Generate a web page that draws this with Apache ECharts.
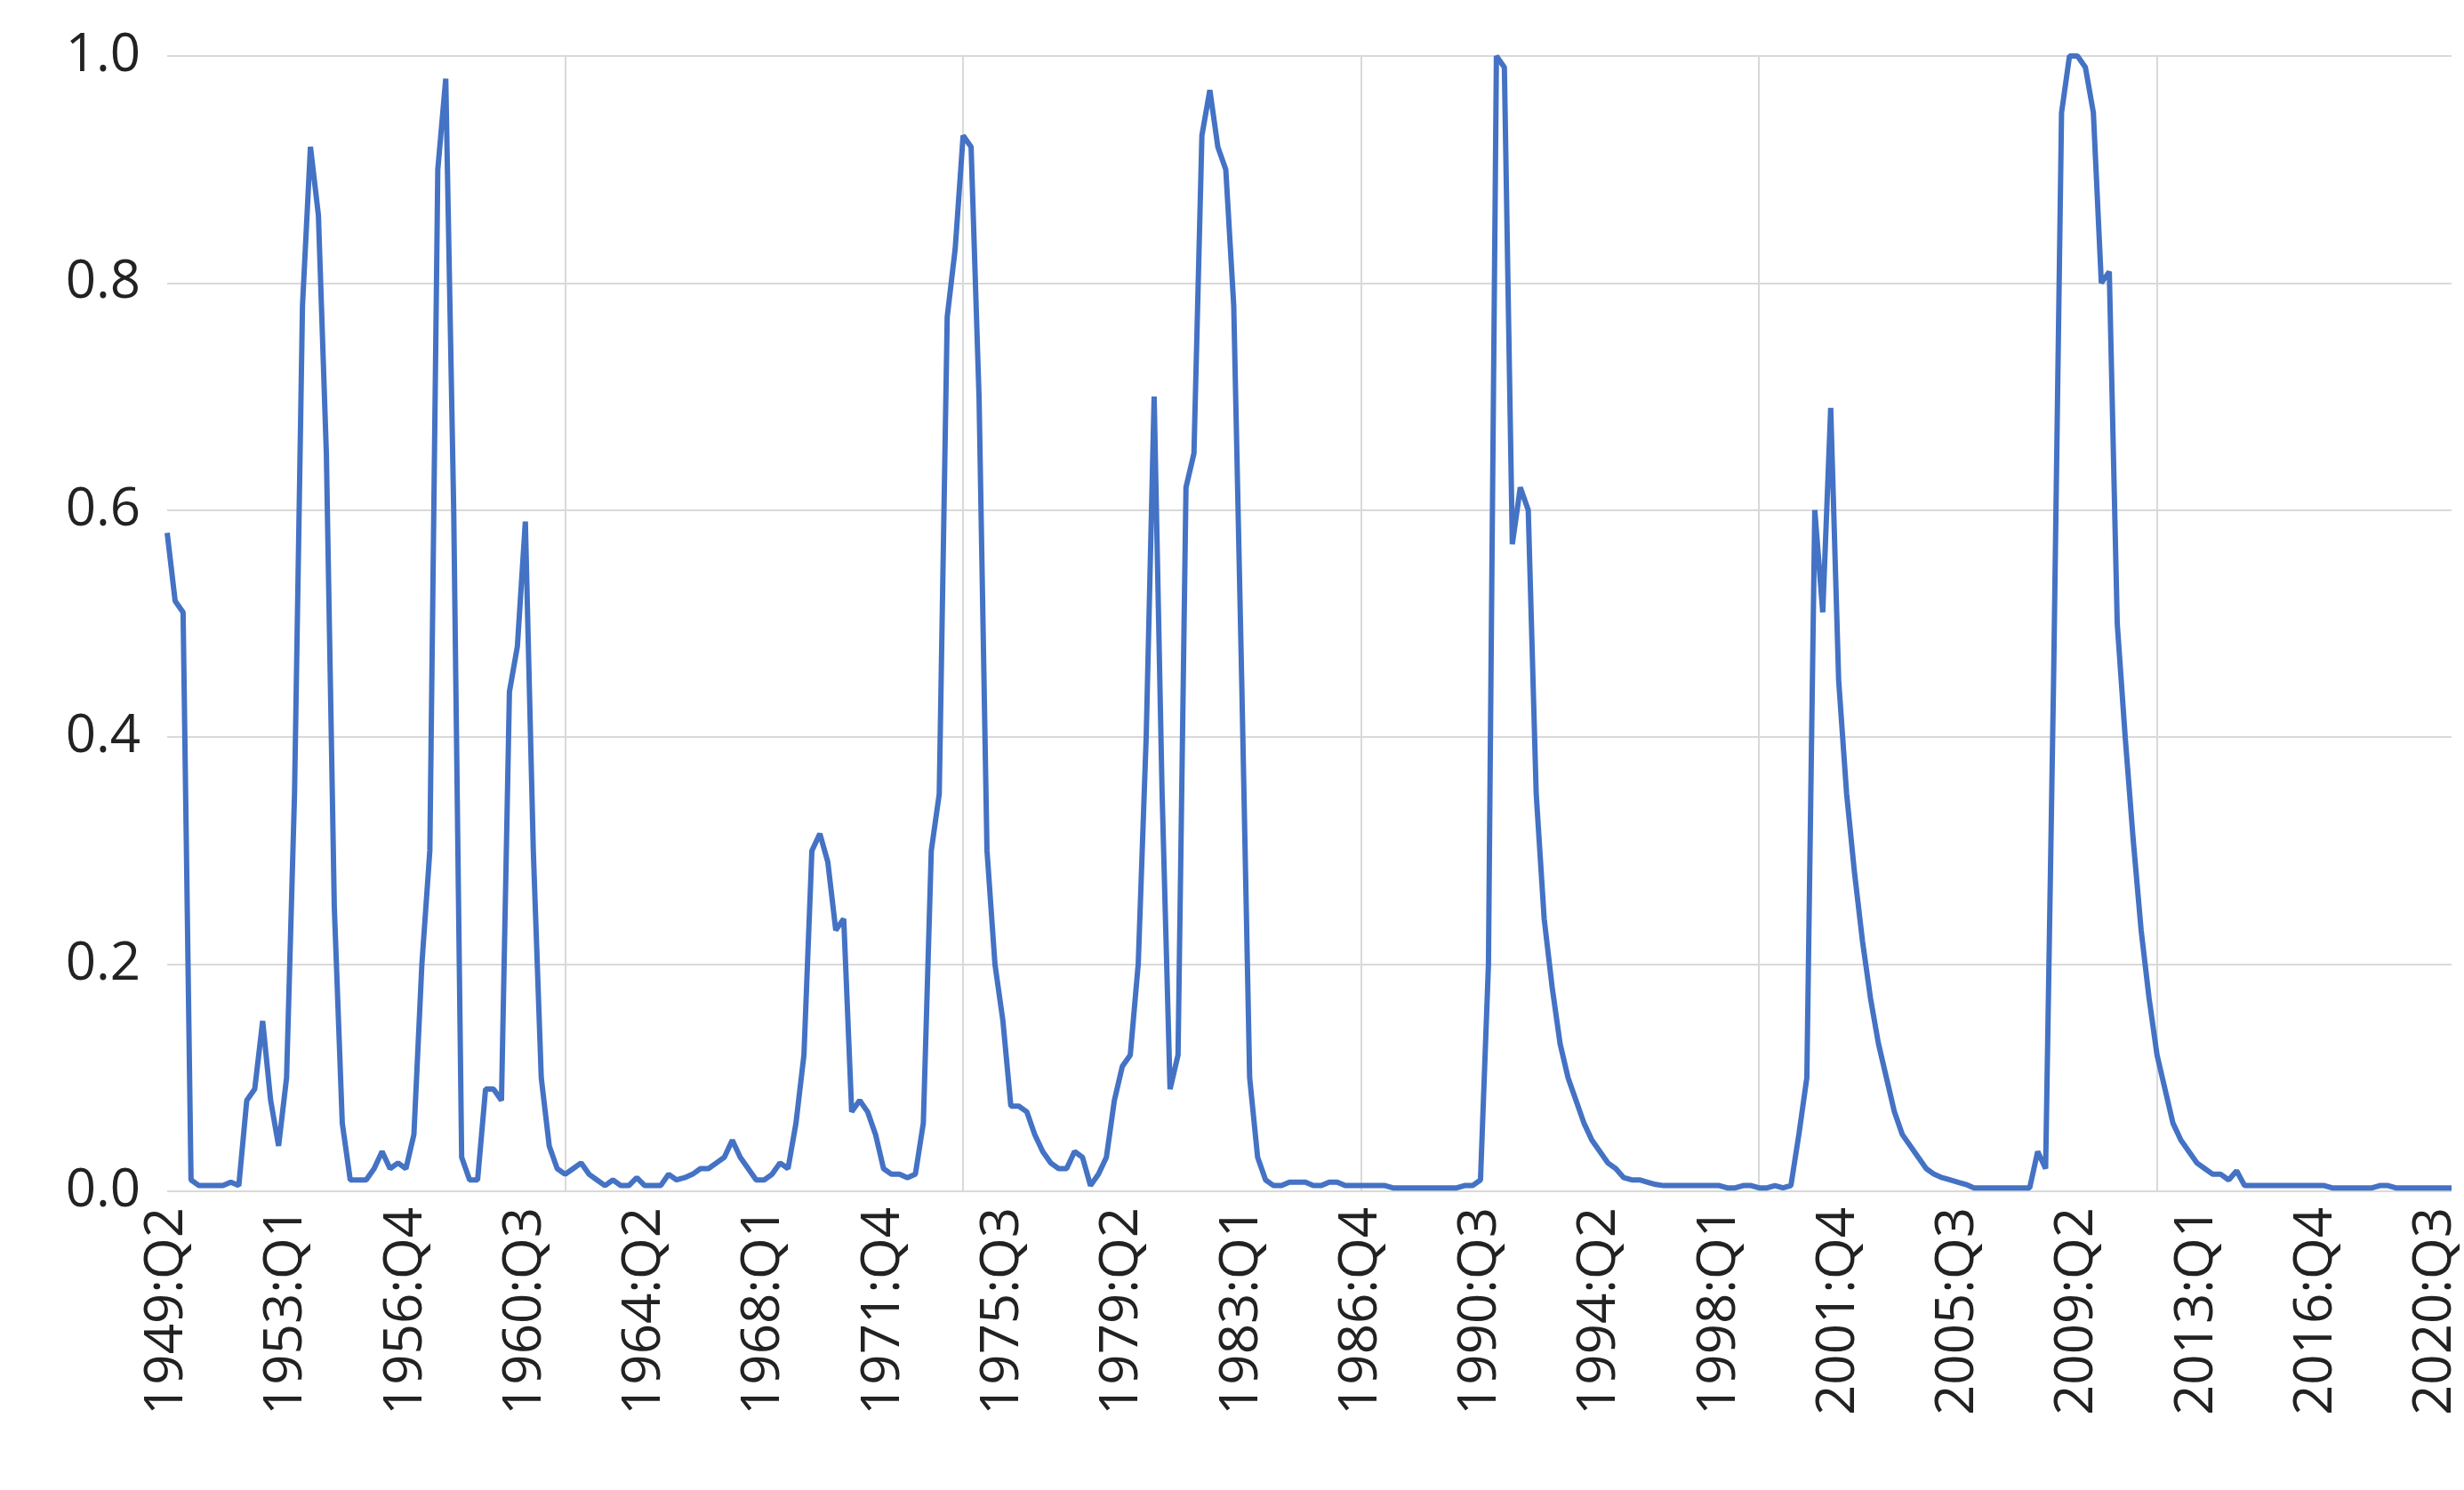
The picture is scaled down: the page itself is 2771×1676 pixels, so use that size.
<!DOCTYPE html>
<html>
<head>
<meta charset="utf-8">
<script src="https://cdn.jsdelivr.net/npm/echarts@6/dist/echarts.min.js"></script>
<style>html,body{margin:0;padding:0;background:#fff}#main{width:2771px;height:1676px}</style>
</head>
<body>
<div id="main"></div>
<script>
// quarterly values, 1949:Q2 onward
var values = [
  0.58, 0.52, 0.51,
  0.01, 0.005, 0.005, 0.005, 0.005, 0.008, 0.005,
  0.08, 0.09, 0.15, 0.08, 0.04, 0.1, 0.35, 0.78, 0.92, 0.86, 0.65, 0.25, 0.06, 0.01,
  0.01, 0.01, 0.02, 0.035, 0.02, 0.025, 0.02, 0.05,
  0.2, 0.3, 0.9, 0.98, 0.6, 0.03, 0.01, 0.01,
  0.09, 0.09, 0.08, 0.44, 0.48, 0.59, 0.3, 0.1, 0.04, 0.02,
  0.015, 0.02, 0.025, 0.015, 0.01, 0.005, 0.01, 0.005, 0.005, 0.012,
  0.005, 0.005, 0.005, 0.015, 0.01, 0.012, 0.015, 0.02, 0.02, 0.025,
  0.03, 0.045, 0.03, 0.02, 0.01, 0.01, 0.015, 0.025, 0.02, 0.06,
  0.12, 0.3, 0.315, 0.29, 0.23, 0.24, 0.07, 0.08, 0.07, 0.05, 0.02, 0.015, 0.015, 0.012, 0.015, 0.06,
  0.3, 0.35, 0.77, 0.83, 0.93, 0.92, 0.7, 0.3, 0.2, 0.15,
  0.075, 0.075, 0.07, 0.05, 0.035, 0.025, 0.02, 0.02, 0.035, 0.03, 0.005, 0.015, 0.03,
  0.08, 0.11, 0.12, 0.2, 0.4, 0.7, 0.35, 0.09, 0.12, 0.62, 0.65, 0.93, 0.97, 0.92, 0.9, 0.78, 0.45, 0.1, 0.03,
  0.01, 0.005, 0.005, 0.008, 0.008, 0.008, 0.005, 0.005, 0.008, 0.008,
  0.005, 0.005, 0.005, 0.005, 0.005, 0.005, 0.003, 0.003, 0.003, 0.003,
  0.003, 0.003, 0.003, 0.003, 0.003, 0.005, 0.005,
  0.01, 0.2, 1.0, 0.99, 0.57, 0.62, 0.6, 0.35, 0.24, 0.18, 0.13, 0.1, 0.08, 0.06, 0.045, 0.035, 0.025,
  0.02, 0.012, 0.01, 0.01, 0.008, 0.006, 0.005, 0.005, 0.005, 0.005,
  0.005, 0.005, 0.005, 0.005, 0.003, 0.003, 0.005, 0.005, 0.003, 0.003,
  0.005, 0.003, 0.005,
  0.05, 0.1, 0.6, 0.51, 0.69, 0.45, 0.35, 0.28, 0.22, 0.17, 0.13, 0.1, 0.07, 0.05, 0.04, 0.03, 0.02, 0.015, 0.012, 0.01, 0.008, 0.006,
  0.003, 0.003, 0.003, 0.003, 0.003, 0.003, 0.003, 0.003,
  0.035, 0.02, 0.45, 0.95, 1.0, 1.0, 0.99, 0.95, 0.8, 0.81, 0.5, 0.4, 0.31, 0.23, 0.17, 0.12, 0.09, 0.06, 0.045, 0.035, 0.025, 0.02, 0.015, 0.015, 0.01, 0.018,
  0.005, 0.005, 0.005, 0.005, 0.005, 0.005, 0.005, 0.005, 0.005, 0.005, 0.005,
  0.003, 0.003, 0.003, 0.003, 0.003, 0.003, 0.005, 0.005, 0.003, 0.003, 0.003,
  0.003, 0.003, 0.003, 0.003, 0.003
];
var yTicks = [0, 0.2, 0.4, 0.6, 0.8, 1.0];

var quarters = [];
var y = 1949, q = 2;
for (var i = 0; i < values.length; i++) {
  quarters.push(y + ':Q' + q);
  q++;
  if (q > 4) { q = 1; y++; }
}

var myChart = echarts.init(document.getElementById('main'));
var option = {
  backgroundColor: '#fff',
  animation: false,
  grid: { left: 188, right: 14, top: 63, bottom: 336 },
  xAxis: {
    type: 'category',
    data: quarters,
    boundaryGap: false,
    axisLine: { show: false },
    axisTick: { show: false },
    axisLabel: {
      interval: 14,
      rotate: 90,
      fontSize: 60,
      color: '#222',
      fontFamily: 'Open Sans',
      margin: 18
    },
    splitLine: {
      show: true,
      interval: function (idx) { return idx > 0 && idx % 50 === 0; },
      lineStyle: { color: '#d9d9d9', width: 2 }
    }
  },
  yAxis: {
    type: 'value',
    min: yTicks[0],
    max: yTicks[yTicks.length - 1],
    interval: 0.2,
    axisLine: { show: false },
    axisTick: { show: false },
    axisLabel: {
      fontSize: 60,
      color: '#222',
      fontFamily: 'Open Sans',
      margin: 30,
      formatter: function (v) { return v.toFixed(1); }
    },
    splitLine: { lineStyle: { color: '#d9d9d9', width: 2 } }
  },
  series: [{
    type: 'line',
    data: values,
    showSymbol: false,
    lineStyle: { color: '#4472C4', width: 6 },
    itemStyle: { color: '#4472C4' }
  }]
};
myChart.setOption(option);
</script>
</body>
</html>
